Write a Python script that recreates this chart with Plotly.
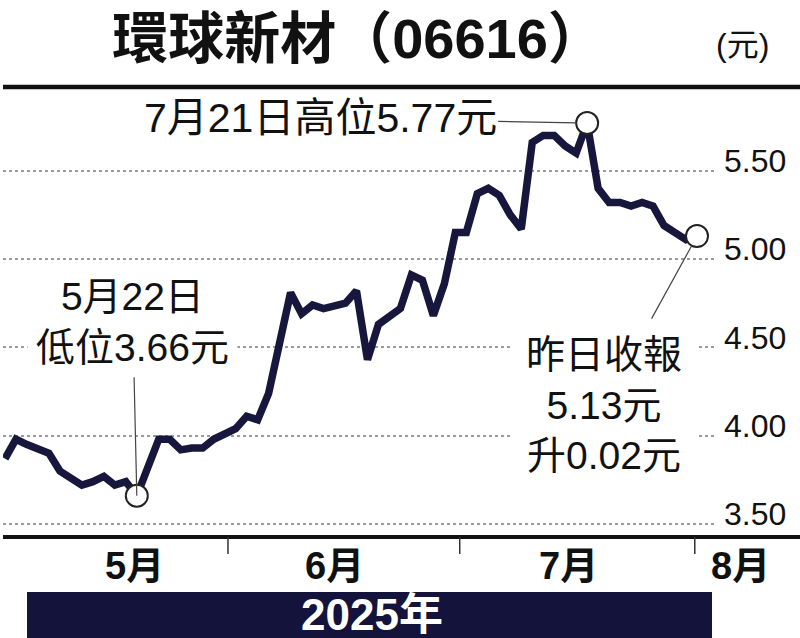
import plotly.graph_objects as go

# ---------------- data ----------------
dates = [
    "2025-05-06", "2025-05-07", "2025-05-08", "2025-05-09", "2025-05-12", "2025-05-13",
    "2025-05-14", "2025-05-15", "2025-05-16", "2025-05-19", "2025-05-20", "2025-05-21",
    "2025-05-22", "2025-05-23", "2025-05-26", "2025-05-27", "2025-05-28", "2025-05-29",
    "2025-05-30",
    "2025-06-02", "2025-06-03", "2025-06-04", "2025-06-05", "2025-06-06", "2025-06-09",
    "2025-06-10", "2025-06-11", "2025-06-12", "2025-06-13", "2025-06-16", "2025-06-17",
    "2025-06-18", "2025-06-19", "2025-06-20", "2025-06-23", "2025-06-24", "2025-06-25",
    "2025-06-26", "2025-06-27", "2025-06-30",
    "2025-07-02", "2025-07-03", "2025-07-04", "2025-07-07", "2025-07-08", "2025-07-09",
    "2025-07-10", "2025-07-11", "2025-07-14", "2025-07-15", "2025-07-16", "2025-07-17",
    "2025-07-18", "2025-07-21", "2025-07-22", "2025-07-23", "2025-07-24", "2025-07-25",
    "2025-07-28", "2025-07-29", "2025-07-30", "2025-07-31",
    "2025-08-01", "2025-08-04",
]
prices = [
    3.87, 3.98, 3.95, 3.92, 3.90, 3.80, 3.76, 3.72, 3.74, 3.77,
    3.72, 3.74, 3.66, 3.82, 3.98, 3.98, 3.92, 3.93, 3.93, 3.98,
    4.01, 4.04, 4.11, 4.09, 4.24, 4.54, 4.81, 4.69, 4.74, 4.72,
    4.73, 4.75, 4.82, 4.43, 4.63, 4.67, 4.72, 4.91, 4.88, 4.68,
    4.86, 5.15, 5.15, 5.37, 5.40, 5.36, 5.25, 5.17, 5.66, 5.70,
    5.70, 5.64, 5.60, 5.77, 5.40, 5.32, 5.32, 5.30, 5.32, 5.30,
    5.19, 5.15, 5.11, 5.13,
]
y_tick_vals = [3.5, 4.0, 4.5, 5.0, 5.5]
y_tick_text = ["3.50", "4.00", "4.50", "5.00", "5.50"]
month_labels = ["5月", "6月", "7月", "8月"]
month_label_pos = [11.8, 30.0, 51.3, 67.0]   # trading-day index of label centre
month_sep_pos = [20.3, 41.4, 62.8]           # trading-day index of separators
year_label_pos = 33.4
title_text = "環球新材（06616）"
unit_text = "(元)"
year_text = "2025年"
low_idx, high_idx, last_idx = 12, 53, 63
low_text = "5月22日<br>低位3.66元"
high_text = "7月21日高位5.77元"
last_text = "昨日收報<br>5.13元<br>升0.02元"

# ---------------- layout geometry ----------------
W, H = 800, 638
ML, MR, MT, MB = 3, 85, 90, 103
X_RANGE = [-0.182, 64.64]
Y_RANGE = [3.438, 5.957]
PW = W - ML - MR
PH = H - MT - MB


def xp(px):  # page pixel -> paper x
    return (px - ML) / PW


def yp(py):  # page pixel -> paper y
    return (H - MB - py) / PH


def idx_paper(i):
    return (i - X_RANGE[0]) / (X_RANGE[1] - X_RANGE[0])


LINE_COLOR = "#17173d"
NAVY = "#13133b"
TXT = "#111111"
FONT = "Liberation Sans, Noto Sans CJK TC, sans-serif"

fig = go.Figure()
fig.add_trace(go.Scatter(
    x=dates, y=prices, mode="lines",
    line=dict(color=LINE_COLOR, width=7.5),
    hoverinfo="x+y", showlegend=False,
))
mark_idx = [low_idx, high_idx, last_idx]
fig.add_trace(go.Scatter(
    x=[dates[i] for i in mark_idx], y=[prices[i] for i in mark_idx],
    mode="markers",
    marker=dict(symbol="circle", size=22, color="white",
                line=dict(color="#222222", width=2)),
    hoverinfo="x+y", showlegend=False,
))

annotations = [
    dict(x=dates[high_idx], y=prices[high_idx], xref="x", yref="y",
         text=high_text, showarrow=True, arrowhead=0, arrowwidth=1.2,
         arrowcolor="#444444", ax=-267, ay=-5, standoff=11,
         font=dict(family=FONT, size=41, color=TXT)),
    dict(x=dates[low_idx], y=prices[low_idx], xref="x", yref="y",
         text=low_text, showarrow=True, arrowhead=0, arrowwidth=1.2,
         arrowcolor="#444444", ax=-4, ay=-174, standoff=0,
         bgcolor="white", borderpad=8,
         font=dict(family=FONT, size=39, color=TXT)),
    dict(x=dates[last_idx], y=prices[last_idx], xref="x", yref="y",
         text=last_text, showarrow=True, arrowhead=0, arrowwidth=1.2,
         arrowcolor="#444444", ax=-93, ay=169, standoff=11,
         bgcolor="white", borderpad=14,
         font=dict(family=FONT, size=39, color=TXT)),
    dict(x=xp(742), y=yp(45), xref="paper", yref="paper", text=unit_text,
         xanchor="center", yanchor="middle",
         showarrow=False, font=dict(family=FONT, size=32, color=TXT)),
    dict(x=idx_paper(year_label_pos), y=yp(614), xref="paper", yref="paper",
         xanchor="center", yanchor="middle",
         text="<b>" + year_text + "</b>", showarrow=False,
         font=dict(family=FONT, size=44, color="white")),
]
for lab, pos in zip(month_labels, month_label_pos):
    annotations.append(dict(
        x=idx_paper(pos), y=yp(566), xref="paper", yref="paper",
        xanchor="center", yanchor="middle",
        text="<b>" + lab + "</b>", showarrow=False,
        font=dict(family=FONT, size=38, color=TXT)))

shapes = [
    dict(type="line", xref="paper", yref="paper", x0=0, x1=xp(805),
         y0=yp(87), y1=yp(87), line=dict(color=TXT, width=4.5)),
    dict(type="line", xref="paper", yref="paper", x0=0, x1=xp(805),
         y0=yp(537), y1=yp(537), line=dict(color=TXT, width=4)),
    dict(type="rect", xref="paper", yref="paper", x0=xp(27), x1=xp(712),
         y0=yp(592), y1=yp(645), fillcolor=NAVY, line=dict(width=0)),
]
for pos in month_sep_pos:
    shapes.append(dict(type="line", xref="x", yref="paper", x0=pos, x1=pos,
                       y0=yp(537), y1=yp(554), line=dict(color="#333333", width=1.5)))

fig.update_layout(
    width=W, height=H,
    margin=dict(l=ML, r=MR, t=MT, b=MB),
    paper_bgcolor="white", plot_bgcolor="white",
    title=dict(text="<b>" + title_text + "</b>", x=358 / W, xanchor="center",
               y=1 - 38 / H, yanchor="middle",
               font=dict(family=FONT, size=56, color=TXT)),
    xaxis=dict(type="category", range=X_RANGE, showgrid=False, showticklabels=False,
               showline=False, zeroline=False, ticks=""),
    yaxis=dict(range=Y_RANGE, side="right", tickvals=y_tick_vals, ticktext=y_tick_text,
               showgrid=True, gridcolor="#9a9a9a", griddash="dot", gridwidth=2,
               zeroline=False, showline=False, ticks="",
               ticklabelstandoff=8, ticklabelshift=-10,
               tickfont=dict(family=FONT, size=32, color=TXT)),
    annotations=annotations,
    shapes=shapes,
    showlegend=False,
)

fig.write_html("out.html",
               config={"displayModeBar": False},
               post_script="document.body.style.margin='0';document.body.style.overflow='hidden';")
